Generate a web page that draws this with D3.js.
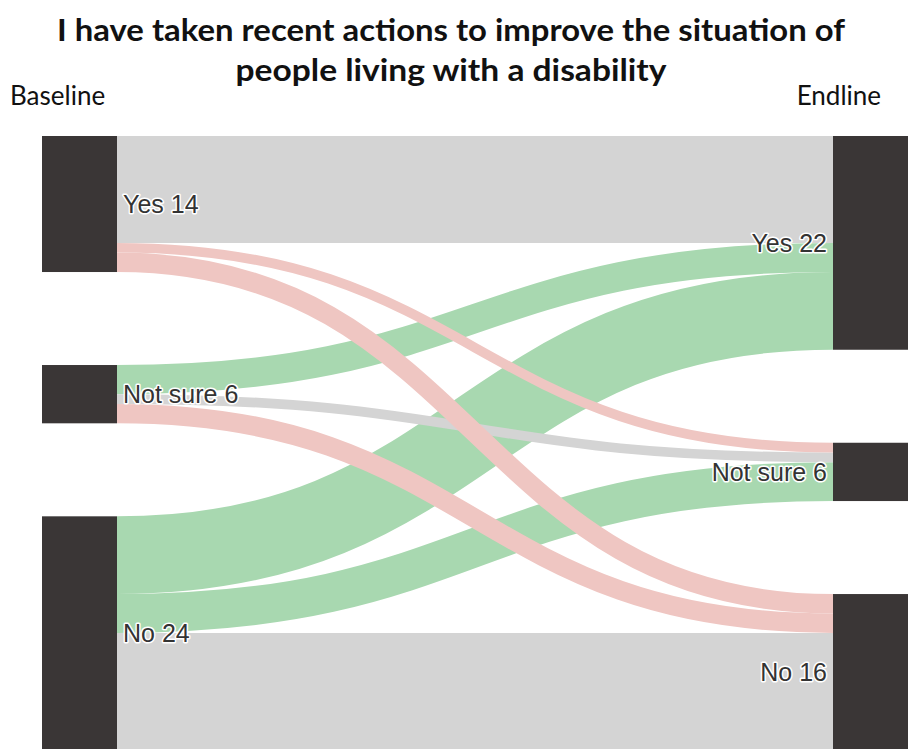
<!DOCTYPE html>
<html>
<head>
<meta charset="utf-8">
<script src="https://cdn.jsdelivr.net/npm/d3@7"></script>
<style>
    body { margin: 0; background: #fff; }
    .title { font-family: Lato, "Open Sans", sans-serif; font-weight: bold; font-size: 31px; fill: #111; }
    .side { font-family: Lato, "Open Sans", sans-serif; font-size: 26px; fill: #111; }
    .node { fill: #3a3636; }
    .link { fill: none; }
    .label { font-family: "Liberation Sans", Arial, sans-serif; font-size: 25px; fill: #333;
             stroke: #fff; stroke-width: 3px; paint-order: stroke; stroke-linejoin: round; }
</style>
</head>
<body>
<script>
// answers, same order on both sides
let categories = ["Yes", "Not sure", "No"];
let baselineCounts = [14, 6, 24];
let endlineCounts = [22, 6, 16];

// flows from each baseline answer to endline Yes / Not sure / No
let fromYes = [11, 1, 2];
let fromNotSure = [3, 1, 2];
let fromNo = [8, 4, 12];
let flows = [fromYes, fromNotSure, fromNo];

let titleLines = ["I have taken recent actions to improve the situation of",
                  "people living with a disability"];

let width = 908, height = 749;
let nodeWidth = 75, nodePad = 93, topY = 136;

let svg = d3.select("body").append("svg")
            .attr("width", width)
            .attr("height", height);

// value -> pixel height
let total = d3.sum(baselineCounts);
let y = d3.scaleLinear().domain([0, total]).range([0, 427.5]);
let x = d3.scalePoint().domain(["Baseline", "Endline"]).range([42, 833]);

// stack the nodes of one column
function layoutColumn(counts, side) {
    let pos = topY;
    return counts.map(function(c, i) {
        let n = { name: categories[i], value: c, idx: i, side: side,
                  x0: x(side), x1: x(side) + nodeWidth, y0: pos, y1: pos + y(c) };
        pos = n.y1 + nodePad;
        return n;
    });
}
let leftNodes = layoutColumn(baselineCounts, "Baseline");
let rightNodes = layoutColumn(endlineCounts, "Endline");

// links, offsets sorted by the other end's order
let links = [];
flows.forEach(function(row, i) {
    row.forEach(function(v, j) {
        let sOff = d3.sum(row.slice(0, j));
        let tOff = d3.sum(flows.slice(0, i), r => r[j]);
        links.push({
            source: leftNodes[i], target: rightNodes[j], value: v,
            sy: leftNodes[i].y0 + y(sOff) + y(v) / 2,
            ty: rightNodes[j].y0 + y(tOff) + y(v) / 2,
            kind: j < i ? "better" : (j > i ? "worse" : "same")
        });
    });
});

let linkColor = { better: "#a8d8b0", same: "#d4d4d4", worse: "#efc6c2" };
let drawOrder = { better: 0, same: 1, worse: 2 };
links.sort((a, b) => drawOrder[a.kind] - drawOrder[b.kind]);

let linkPath = d3.linkHorizontal()
                 .source(d => [d.source.x1, d.sy])
                 .target(d => [d.target.x0, d.ty]);

svg.append("g").selectAll("path")
   .data(links)
   .join("path")
   .attr("class", "link")
   .attr("d", linkPath)
   .attr("stroke", d => linkColor[d.kind])
   .attr("stroke-width", d => y(d.value));

let nodes = leftNodes.concat(rightNodes);
svg.append("g").selectAll("rect")
   .data(nodes)
   .join("rect")
   .attr("class", "node")
   .attr("x", d => d.x0)
   .attr("y", d => d.y0)
   .attr("width", nodeWidth)
   .attr("height", d => d.y1 - d.y0);

svg.append("g").selectAll("text")
   .data(nodes)
   .join("text")
   .attr("class", "label")
   .attr("x", d => d.side == "Baseline" ? d.x1 + 6 : d.x0 - 6)
   .attr("y", d => (d.y0 + d.y1) / 2)
   .attr("dy", "0.35em")
   .attr("text-anchor", d => d.side == "Baseline" ? "start" : "end")
   .text(d => d.name + " " + d.value);

// title and column headers
let titleWidths = [788, 431];
svg.selectAll("text.title")
   .data(titleLines)
   .join("text")
   .attr("class", "title")
   .attr("x", 451)
   .attr("y", (d, i) => 41 + i * 40)
   .attr("text-anchor", "middle")
   .attr("textLength", (d, i) => titleWidths[i])
   .attr("lengthAdjust", "spacingAndGlyphs")
   .text(d => d);

svg.append("text").attr("class", "side").attr("x", 10).attr("y", 105).text("Baseline");
svg.append("text").attr("class", "side").attr("x", 881).attr("y", 105)
   .attr("text-anchor", "end").text("Endline");
</script>
</body>
</html>
